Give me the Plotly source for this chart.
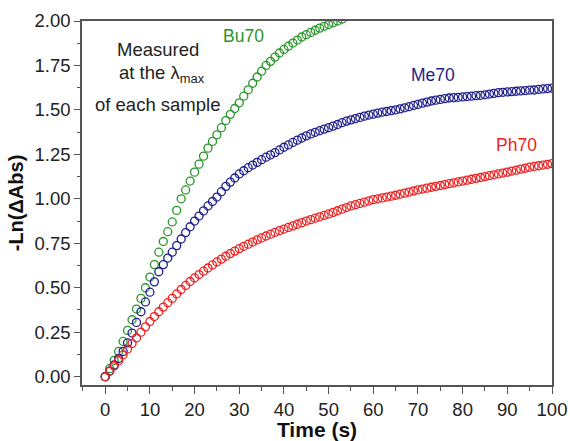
import plotly.graph_objects as go

time_ph = list(range(0, 101))
ph70 = [0.000, 0.030, 0.060, 0.090, 0.122, 0.155, 0.187, 0.218, 0.250, 0.280,
        0.310, 0.338, 0.365, 0.391, 0.416, 0.440, 0.465, 0.490, 0.513, 0.535,
        0.555, 0.574, 0.593, 0.611, 0.628, 0.645, 0.661, 0.677, 0.692, 0.706,
        0.720, 0.733, 0.745, 0.757, 0.769, 0.780, 0.791, 0.801, 0.811, 0.821,
        0.830, 0.839, 0.848, 0.857, 0.866, 0.875, 0.883, 0.891, 0.899, 0.907,
        0.915, 0.924, 0.933, 0.942, 0.951, 0.960, 0.967, 0.974, 0.981, 0.988,
        0.995, 1.000, 1.005, 1.010, 1.015, 1.020, 1.026, 1.032, 1.038, 1.044,
        1.050, 1.055, 1.060, 1.065, 1.070, 1.075, 1.080, 1.085, 1.090, 1.095,
        1.100, 1.105, 1.110, 1.115, 1.120, 1.125, 1.130, 1.135, 1.140, 1.145,
        1.150, 1.156, 1.161, 1.167, 1.172, 1.178, 1.182, 1.186, 1.190, 1.194,
        1.198]

time_me = list(range(0, 101))
me70 = [0.000, 0.032, 0.066, 0.102, 0.142, 0.190, 0.245, 0.305, 0.365, 0.420,
        0.475, 0.533, 0.590, 0.630, 0.667, 0.700, 0.737, 0.774, 0.810, 0.843,
        0.875, 0.903, 0.932, 0.960, 0.985, 1.010, 1.040, 1.070, 1.094, 1.117,
        1.140, 1.158, 1.175, 1.190, 1.205, 1.220, 1.234, 1.247, 1.260, 1.275,
        1.290, 1.303, 1.317, 1.330, 1.342, 1.354, 1.365, 1.374, 1.383, 1.392,
        1.400, 1.409, 1.418, 1.428, 1.437, 1.444, 1.451, 1.458, 1.465, 1.471,
        1.476, 1.482, 1.487, 1.491, 1.496, 1.500, 1.506, 1.512, 1.518, 1.525,
        1.531, 1.538, 1.544, 1.550, 1.555, 1.559, 1.563, 1.567, 1.569, 1.571,
        1.573, 1.575, 1.577, 1.580, 1.582, 1.585, 1.589, 1.593, 1.597, 1.599,
        1.601, 1.603, 1.605, 1.607, 1.609, 1.611, 1.612, 1.615, 1.618, 1.620,
        1.622]

time_bu = list(range(0, 54))
bu70 = [0.000, 0.045, 0.092, 0.142, 0.198, 0.260, 0.320, 0.380, 0.440, 0.500,
        0.560, 0.630, 0.700, 0.760, 0.815, 0.870, 0.935, 1.000, 1.050, 1.100,
        1.150, 1.195, 1.240, 1.285, 1.323, 1.360, 1.400, 1.440, 1.475, 1.508,
        1.540, 1.577, 1.613, 1.650, 1.685, 1.718, 1.750, 1.773, 1.797, 1.820,
        1.840, 1.858, 1.876, 1.893, 1.910, 1.923, 1.936, 1.948, 1.960, 1.970,
        1.980, 1.990, 2.000, 2.010]

series_names = ["Bu70", "Me70", "Ph70"]
colors = {"Bu70": "rgb(40,150,40)", "Me70": "rgb(30,30,140)", "Ph70": "rgb(240,30,30)"}
data = {"Bu70": (time_bu, bu70), "Me70": (time_me, me70), "Ph70": (time_ph, ph70)}

FONT = "Arial, Liberation Sans, sans-serif"

fig = go.Figure()
for name in series_names:
    xs, ys = data[name]
    fig.add_trace(go.Scatter(
        x=xs, y=ys, mode="markers", name=name,
        marker=dict(symbol="circle-open", size=8, color=colors[name],
                    line=dict(width=1.3, color=colors[name])),
        showlegend=False,
    ))

# series labels
label_pos = {"Bu70": (30.9, 1.913), "Me70": (73.3, 1.695), "Ph70": (92.1, 1.30)}
for name in series_names:
    lx, ly = label_pos[name]
    fig.add_annotation(x=lx, y=ly, text=name, showarrow=False,
                       font=dict(family=FONT, size=17.5, color=colors[name]))

note_lines = ["Measured", "at the λ<sub>max</sub>", "of each sample"]
note_pos = [(11.8, 1.84), (12.8, 1.70), (11.8, 1.53)]
for t, (nx, ny) in zip(note_lines, note_pos):
    fig.add_annotation(x=nx, y=ny, text=t, showarrow=False,
                       font=dict(family=FONT, size=18.5, color="#222"))

axis_common = dict(
    showline=True, linecolor="#555", linewidth=1.5, mirror=True,
    ticks="outside", tickcolor="#555", tickwidth=1.3,
    showgrid=False, zeroline=False, automargin=False,
    tickfont=dict(family=FONT, size=18.5, color="#222"),
)

fig.update_xaxes(
    range=[-5.2, 100], dtick=10, tick0=0, ticklen=7,
    minor=dict(ticks="outside", dtick=5, ticklen=4, tickcolor="#555", tickwidth=1.3),
    title=dict(text="<b>Time (s)</b>", font=dict(family=FONT, size=21, color="#111"), standoff=6),
    **axis_common,
)
fig.update_yaxes(
    range=[-0.047, 2.0], dtick=0.25, tick0=0, tickformat=".2f", ticklen=6,
    minor=dict(ticks="outside", dtick=0.125, ticklen=3, tickcolor="#555", tickwidth=1.3),
    title=dict(text="<b>-Ln(ΔAbs)</b>", font=dict(family=FONT, size=20, color="#111"), standoff=6),
    **axis_common,
)

fig.update_layout(
    width=570, height=441,
    margin=dict(l=82, r=18, t=21, b=56),
    plot_bgcolor="white", paper_bgcolor="white",
    font=dict(family=FONT),
)

fig.write_html("out.html")
